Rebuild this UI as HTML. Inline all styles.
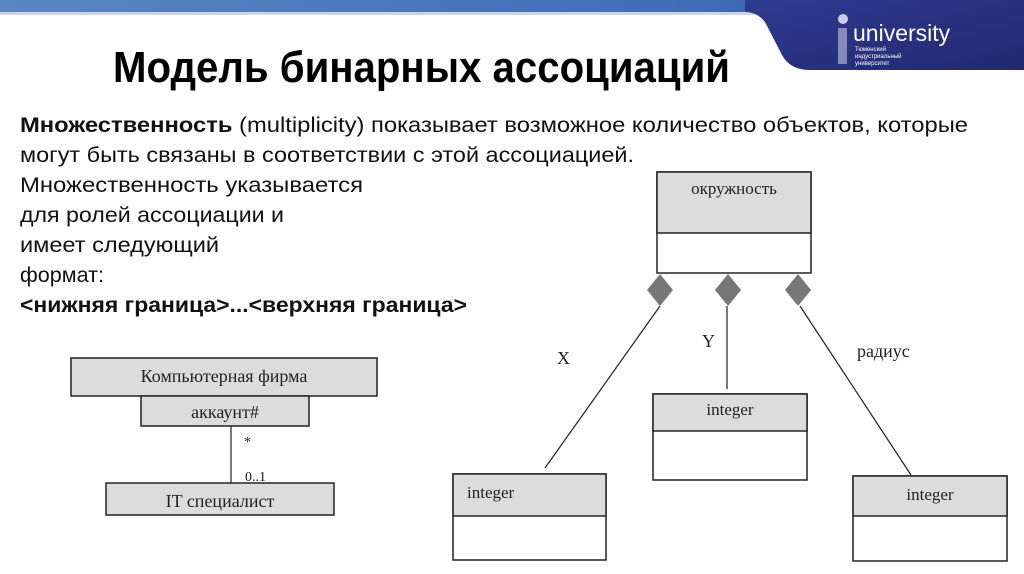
<!DOCTYPE html>
<html><head><meta charset="utf-8"><style>
html,body{margin:0;padding:0;background:#fff;}
svg{display:block}
</style></head><body>
<svg width="1024" height="574" viewBox="0 0 1024 574" xmlns="http://www.w3.org/2000/svg" font-family="Liberation Sans, sans-serif">
<defs>
<linearGradient id="bar" x1="0" x2="1" y1="0" y2="0">
<stop offset="0" stop-color="#5a86c4"/><stop offset="0.7" stop-color="#3f6db5"/><stop offset="1" stop-color="#2e3f8f"/>
</linearGradient>
<linearGradient id="navy" x1="0" x2="1" y1="0" y2="1">
<stop offset="0" stop-color="#2f3b92"/><stop offset="1" stop-color="#23286e"/>
</linearGradient>
</defs>
<rect x="0" y="0" width="1024" height="12" fill="url(#bar)"/>
<rect x="0" y="12" width="760" height="3" fill="#c9d6ea"/>
<path d="M745 0 L1024 0 L1024 70 L810 70 Q790 70 782 55 L765 22 Q757 12 745 12 Z" fill="url(#navy)"/>
<circle cx="843" cy="19" r="5" fill="#c8d0e8"/>
<rect x="838" y="28" width="9" height="36" fill="#9aa4d0" opacity="0.8"/>
<text x="853" y="41" font-size="23" fill="#fff">university</text>
<text x="855" y="51" font-size="6" fill="#fff">Тюменский</text>
<text x="855" y="58" font-size="6" fill="#fff">индустриальный</text>
<text x="855" y="65" font-size="6" fill="#fff">университет</text>

<text x="113" y="82" font-size="44" font-weight="bold" textLength="617" lengthAdjust="spacingAndGlyphs" fill="#000">Модель бинарных ассоциаций</text>

<g font-size="21" fill="#111">
<text x="20" y="132" textLength="948" lengthAdjust="spacingAndGlyphs"><tspan font-weight="bold">Множественность</tspan> (multiplicity) показывает возможное количество объектов, которые</text>
<text x="20" y="162" textLength="614" lengthAdjust="spacingAndGlyphs">могут быть связаны в соответствии с этой ассоциацией.</text>
<text x="20" y="192" textLength="343" lengthAdjust="spacingAndGlyphs">Множественность указывается</text>
<text x="20" y="222" textLength="264" lengthAdjust="spacingAndGlyphs">для ролей ассоциации и</text>
<text x="20" y="252" textLength="199" lengthAdjust="spacingAndGlyphs">имеет следующий</text>
<text x="20" y="282" textLength="84" lengthAdjust="spacingAndGlyphs">формат:</text>
<text x="20" y="312" font-weight="bold" textLength="447" lengthAdjust="spacingAndGlyphs">&lt;нижняя граница&gt;...&lt;верхняя граница&gt;</text>
</g>

<g font-family="Liberation Serif, serif" fill="#222" stroke="#222">
<rect x="71" y="358" width="306" height="38" fill="#dcdcdc" stroke-width="1.5"/>
<rect x="141" y="396" width="168" height="30" fill="#dcdcdc" stroke-width="1.5"/>
<line x1="231" y1="426" x2="231" y2="483" stroke-width="1.2"/>
<rect x="106" y="483" width="228" height="32" fill="#dcdcdc" stroke-width="1.5"/>
<g stroke="none" font-size="18">
<text x="224" y="382" text-anchor="middle">Компьютерная фирма</text>
<text x="225" y="418" text-anchor="middle">аккаунт#</text>
<text x="220" y="507" text-anchor="middle">IT специалист</text>
<text x="244" y="446" font-size="14">*</text>
<text x="245" y="481" font-size="14">0..1</text>
</g>

<rect x="657" y="172" width="154" height="101" fill="#fff" stroke-width="1.5"/>
<rect x="657" y="172" width="154" height="61" fill="#dcdcdc" stroke-width="1.5"/>
<rect x="653" y="394" width="154" height="86" fill="#fff" stroke-width="1.5"/>
<rect x="653" y="394" width="154" height="37" fill="#dcdcdc" stroke-width="1.5"/>
<rect x="453" y="474" width="153" height="86" fill="#fff" stroke-width="1.5"/>
<rect x="453" y="474" width="153" height="42" fill="#dcdcdc" stroke-width="1.5"/>
<rect x="853" y="476" width="154" height="85" fill="#fff" stroke-width="1.5"/>
<rect x="853" y="476" width="154" height="40" fill="#dcdcdc" stroke-width="1.5"/>
<line x1="660" y1="306" x2="545" y2="468" stroke-width="1.2"/>
<line x1="727" y1="306" x2="727" y2="389" stroke-width="1.2"/>
<line x1="800" y1="306" x2="911" y2="475" stroke-width="1.2"/>
<g fill="#777" stroke="none">
<polygon points="660,274 673,290 660,306 647,290"/>
<polygon points="728,274 741,290 728,306 715,290"/>
<polygon points="798,274 811,290 798,306 785,290"/>
</g>
<g stroke="none" font-size="17">
<text x="734" y="194" text-anchor="middle">окружность</text>
<text x="730" y="415" text-anchor="middle">integer</text>
<text x="467" y="498">integer</text>
<text x="930" y="500" text-anchor="middle">integer</text>
<text x="557" y="364" font-size="18">X</text>
<text x="702" y="347" font-size="18">Y</text>
<text x="857" y="357" font-size="18">радиус</text>
</g>
</g>
</svg>
</body></html>
